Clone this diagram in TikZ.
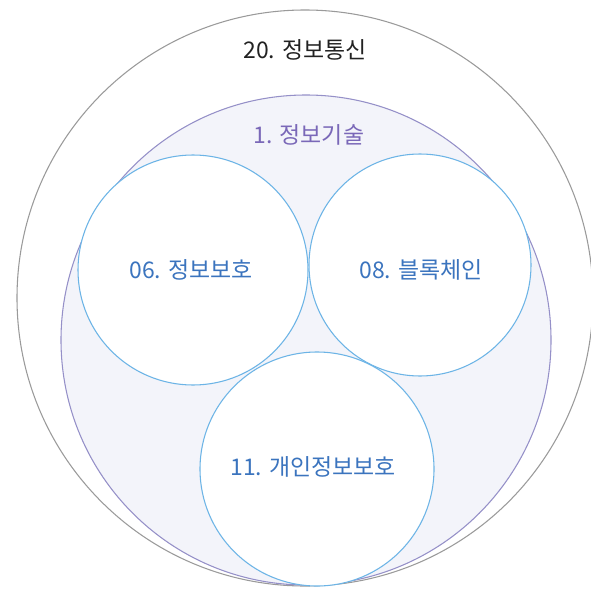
\documentclass[tikz,border=0pt]{standalone}
\usepackage{fontspec}
\setmainfont{Noto Sans CJK KR}
\definecolor{outerline}{HTML}{9A9A9A}
\definecolor{itline}{HTML}{9590C8}
\definecolor{itfill}{HTML}{F3F4FA}
\definecolor{itext}{HTML}{7A68B8}
\definecolor{subline}{HTML}{6CB4E6}
\definecolor{subtext}{HTML}{3B74BE}
\definecolor{toptext}{HTML}{222222}
\tikzset{
  ring/.style={circle, inner sep=0pt, line width=0.8pt},
  lbl/.style={font=\fontsize{17.2pt}{20pt}\selectfont, inner sep=0pt},
}
\begin{document}
\begin{tikzpicture}[x=0.75pt,y=-0.75pt]
\useasboundingbox (0,0) rectangle (591,588);
\begin{scope}
\clip (0,0) rectangle (591,588);
\node[ring, draw=outerline, minimum size=576*0.75pt] (outer) at (305,298) {};
\node[ring, draw=itline, fill=itfill, minimum size=490*0.75pt] (it) at (306,340) {};
\node[ring, draw=subline, fill=white, minimum size=230*0.75pt] (sec) at (193,270) {};
\node[ring, draw=subline, fill=white, minimum size=222*0.75pt] (bc) at (420,265) {};
\node[ring, draw=subline, fill=white, minimum size=234*0.75pt] (pi) at (317,469) {};
\end{scope}
\node[lbl, text=toptext] (t20) at (305,50) {20. 정보통신};
\node[lbl, text=itext] (t1) at (309,135) {1. 정보기술};
\node[lbl, text=subtext] (t06) at (191,270) {06. 정보보호};
\node[lbl, text=subtext] (t08) at (421,270) {08. 블록체인};
\node[lbl, text=subtext] (t11) at (313,467) {11. 개인정보보호};
\end{tikzpicture}
\end{document}
